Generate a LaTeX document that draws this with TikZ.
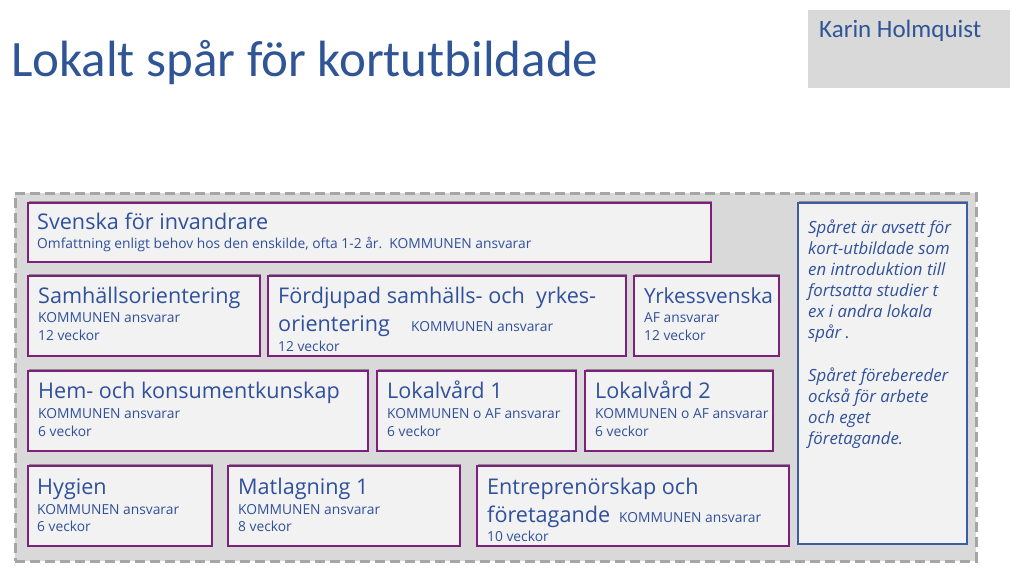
\documentclass[tikz,border=0pt]{standalone}
\usepackage{fontspec}
\setmainfont{Open Sans}
\newfontfamily\calib{Carlito}
\usetikzlibrary{shadows}
\definecolor{ttlblue}{RGB}{47,85,151}
\definecolor{txtblue}{RGB}{47,80,156}
\definecolor{bxpurple}{RGB}{125,32,125}
\definecolor{rbblue}{RGB}{62,92,160}
\definecolor{outergray}{RGB}{217,217,217}
\definecolor{dashgray}{RGB}{166,166,166}
\definecolor{boxfill}{RGB}{242,242,242}
\tikzset{
  cbox/.style={draw=bxpurple, line width=1.8pt, fill=boxfill, inner sep=0pt,
    drop shadow={shadow xshift=1pt, shadow yshift=1.5pt, opacity=0.35, fill=black}},
  rbox/.style={draw=rbblue, line width=1.5pt, fill=boxfill, inner sep=0pt,
    drop shadow={shadow xshift=1pt, shadow yshift=1.5pt, opacity=0.35, fill=black}},
  big/.style={anchor=base west, inner sep=0pt, text=txtblue, font=\fontsize{21.6}{26}\selectfont},
  small/.style={anchor=base west, inner sep=0pt, text=txtblue, font=\fontsize{13.8}{17}\selectfont},
  note/.style={anchor=base west, inner sep=0pt, text=txtblue, font=\itshape\fontsize{16.8}{21}\selectfont},
}
\begin{document}
\begin{tikzpicture}[x=1pt,y=-1pt]
\useasboundingbox (0,0) rectangle (1024,573);
\fill[white] (0,0) rectangle (1024,573);
% title
\node[anchor=base west, inner sep=0pt, text=ttlblue, font=\calib\fontsize{51}{60}\selectfont] (title) at (11,76) {Lokalt spår för kortutbildade};
% author box
\node[fill=outergray, minimum width=202pt, minimum height=78pt, anchor=north west, inner sep=0pt] (authbox) at (808,10) {};
\node[anchor=base west, inner sep=0pt, text=ttlblue, font=\calib\fontsize{25}{30}\selectfont] (author) at (819,37) {Karin Holmquist};
% outer dashed container
\node[draw=dashgray, fill=outergray, line width=2.5pt, dash pattern=on 10pt off 5pt, minimum width=961pt, minimum height=368pt, anchor=north west, inner sep=0pt] (outer) at (14,192) {};
% row 1
\node[cbox, minimum width=683pt, minimum height=59pt, anchor=north west] (svi) at (27,202) {};
\node[big] (svi-t) at (37,229) {Svenska för invandrare};
\node[small] (svi-s) at (37,248) {Omfattning enligt behov hos den enskilde, ofta 1-2 år.\ \ KOMMUNEN ansvarar};
% row 2
\node[cbox, minimum width=232pt, minimum height=80pt, anchor=north west] (sam) at (27,275) {};
\node[big] (sam-t) at (38,303) {Samhällsorientering};
\node[small] (sam-a) at (38,322) {KOMMUNEN ansvarar};
\node[small] (sam-v) at (38,340) {12 veckor};
\node[cbox, minimum width=358pt, minimum height=80pt, anchor=north west] (ford) at (267,275) {};
\node[big] (ford-t) at (278,303) {Fördjupad samhälls- och\ \ yrkes-};
\node[big] (ford-t2) at (278,331) {orientering};
\node[small] (ford-a) at (411,331) {KOMMUNEN ansvarar};
\node[small] (ford-v) at (278,351) {12 veckor};
\node[cbox, minimum width=145pt, minimum height=80pt, anchor=north west] (yrk) at (633,275) {};
\node[big, font=\fontsize{20.8}{25}\selectfont] (yrk-t) at (644,303) {Yrkessvenska};
\node[small] (yrk-a) at (644,322) {AF ansvarar};
\node[small] (yrk-v) at (644,340) {12 veckor};
% row 3
\node[cbox, minimum width=340pt, minimum height=80pt, anchor=north west] (hem) at (27,370) {};
\node[big] (hem-t) at (38,398) {Hem- och konsumentkunskap};
\node[small] (hem-a) at (38,418) {KOMMUNEN ansvarar};
\node[small] (hem-v) at (38,436) {6 veckor};
\node[cbox, minimum width=199pt, minimum height=80pt, anchor=north west] (lv1) at (376,370) {};
\node[big] (lv1-t) at (387,398) {Lokalvård 1};
\node[small] (lv1-a) at (387,418) {KOMMUNEN o AF ansvarar};
\node[small] (lv1-v) at (387,436) {6 veckor};
\node[cbox, minimum width=188pt, minimum height=80pt, anchor=north west] (lv2) at (584,370) {};
\node[big] (lv2-t) at (595,398) {Lokalvård 2};
\node[small] (lv2-a) at (595,418) {KOMMUNEN o AF ansvarar};
\node[small] (lv2-v) at (595,436) {6 veckor};
% row 4
\node[cbox, minimum width=184pt, minimum height=80pt, anchor=north west] (hyg) at (27,465) {};
\node[big] (hyg-t) at (37,494) {Hygien};
\node[small] (hyg-a) at (37,514) {KOMMUNEN ansvarar};
\node[small] (hyg-v) at (37,531) {6 veckor};
\node[cbox, minimum width=232pt, minimum height=80pt, anchor=north west] (mat) at (227,465) {};
\node[big] (mat-t) at (238,494) {Matlagning 1};
\node[small] (mat-a) at (238,514) {KOMMUNEN ansvarar};
\node[small] (mat-v) at (238,531) {8 veckor};
\node[cbox, minimum width=312pt, minimum height=80pt, anchor=north west] (ent) at (476,465) {};
\node[big] (ent-t) at (487,494) {Entreprenörskap och};
\node[big] (ent-t2) at (487,522) {företagande};
\node[small] (ent-a) at (619,522) {KOMMUNEN ansvarar};
\node[small] (ent-v) at (487,541) {10 veckor};
% right box
\node[rbox, minimum width=169pt, minimum height=341pt, anchor=north west] (rb) at (797,202) {};
\node[note] (rb1) at (808,233) {Spåret är avsett för};
\node[note] (rb2) at (808,254) {kort-utbildade som};
\node[note] (rb3) at (808,275) {en introduktion till};
\node[note] (rb4) at (808,296) {fortsatta studier t};
\node[note] (rb5) at (808,317) {ex i andra lokala};
\node[note] (rb6) at (808,338) {spår .};
\node[note] (rb7) at (808,381) {Spåret förebereder};
\node[note] (rb8) at (808,402) {också för arbete};
\node[note] (rb9) at (808,423) {och eget};
\node[note] (rb10) at (808,444) {företagande.};
\end{tikzpicture}
\end{document}
